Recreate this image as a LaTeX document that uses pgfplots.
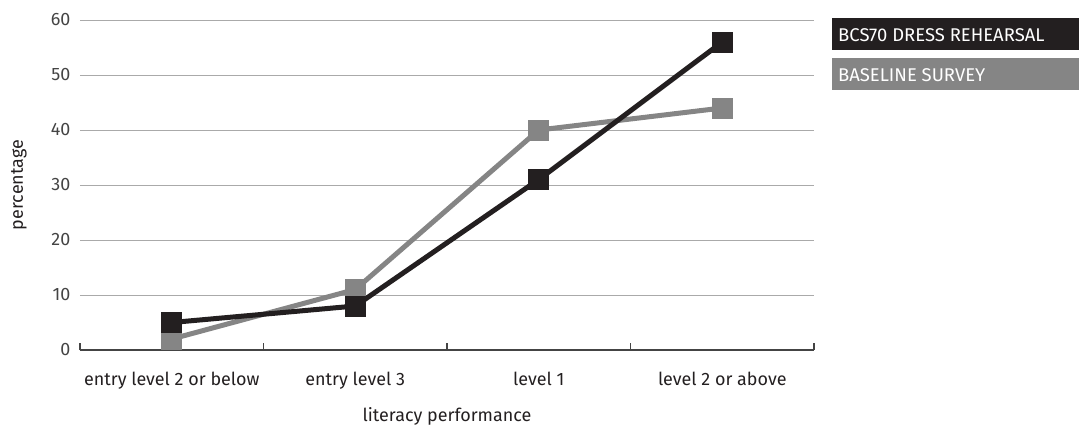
\documentclass[border=0pt]{standalone}
\usepackage{pgfplots}
\pgfplotsset{compat=1.18}
\usepackage{fontspec}
\setmainfont{Fira Sans}
\definecolor{dk}{HTML}{231F20}
\definecolor{gr}{HTML}{858585}
\definecolor{grid}{HTML}{AAAAAA}
\definecolor{ax}{HTML}{444444}
\begin{document}
\fontsize{18}{21}\selectfont
\begin{tikzpicture}[x=1bp,y=1bp]
\useasboundingbox (-80,-75) rectangle (999,350);
\begin{axis}[
  at={(0,0)}, anchor=south west,
  scale only axis, width=734bp, height=330bp,
  xmin=-0.5, xmax=3.5, ymin=0, ymax=60,
  clip=false,
  axis lines=left,
  axis line style={-},
  x axis line style={draw=ax, line width=1.2bp},
  y axis line style={draw=none},
  ytick={0,10,20,30,40,50,60},
  ytick style={draw=none},
  ymajorgrids,
  grid style={draw=grid, line width=0.9bp},
  yticklabel style={font=\fontsize{18}{21}\selectfont, text=ax},
  /pgf/number format/assume math mode=true,
  xtick={-0.5,0.5,1.5,2.5,3.5},
  xticklabels={},
  xtick align=inside,
  major tick length=7bp,
  xtick style={draw=ax, line width=1.2bp},
  extra x ticks={0,1,2,3},
  extra x tick labels={entry level 2 or below, entry level 3, level 1, level 2 or above},
  extra x tick style={major tick length=0pt, xticklabel style={yshift=-16bp}},
  xticklabel style={font=\fontsize{18}{21}\selectfont, text=dk},
  xlabel={literacy performance},
  ylabel={percentage},
  label style={font=\fontsize{18}{21}\selectfont, text=dk},
  xlabel style={yshift=-6bp},
  ylabel style={yshift=12bp},
]
\addplot[gr, line width=5bp, mark=square*, mark size=8bp, mark options={solid}] coordinates {(0,2) (1,11) (2,40) (3,44)};
\addplot[dk, line width=5bp, mark=square*, mark size=8bp, mark options={solid}] coordinates {(0,5) (1,8) (2,31) (3,56)};
\end{axis}
\fill[dk] (752,300) rectangle (999,332);
\node[anchor=west, text=white, inner sep=0pt, font=\fontsize{18.5}{21}\selectfont] at (758,315) {BCS70 DRESS REHEARSAL};
\fill[gr] (752,260) rectangle (999,292);
\node[anchor=west, text=white, inner sep=0pt, font=\fontsize{18.5}{21}\selectfont] at (758,275) {BASELINE SURVEY};
\end{tikzpicture}
\end{document}
